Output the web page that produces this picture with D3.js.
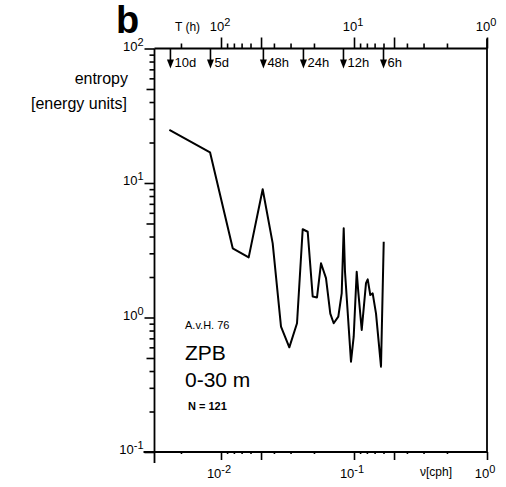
<html>
<script src='https://d3js.org/d3.v7.min.js'></script>
<style>
body {margin:0; background:#fff;}
text {font-family: "Liberation Sans", Arial, sans-serif; fill:#000;}
.axis path {display:none;}
.axis line {stroke:#000; stroke-width:1.6;}
</style>
<body onload='init()'>
<svg width=506 height=487></svg>
<script>
// spectrum: frequency (cph) and entropy
var freq = [0.00409, 0.00827, 0.01225, 0.01615, 0.02058, 0.02447, 0.02826, 0.03263, 0.03728, 0.04114,
            0.04486, 0.04892, 0.05271, 0.05648, 0.06158, 0.06634, 0.07036, 0.07621, 0.08081, 0.08368,
            0.08557, 0.09493, 0.09947, 0.1048, 0.1077, 0.1143, 0.1231, 0.1268, 0.1326, 0.1382,
            0.1464, 0.1596, 0.1673];
var entropy = [24.8, 16.9, 3.27, 2.80, 8.98, 3.56, 0.854, 0.600, 0.906, 4.53,
               4.34, 1.43, 1.41, 2.53, 1.96, 1.07, 0.906, 1.014, 1.51, 4.61,
               2.19, 0.469, 0.720, 2.19, 1.55, 0.807, 1.80, 1.92, 1.47, 1.51,
               1.07, 0.431, 3.66];

// period ticks (h) used on top and bottom
var periodMajor = [100, 10, 1];
var periodMid = [50, 5];
var periodMinor = [200, 90, 80, 70, 60, 40, 30, 20, 9, 8, 7, 6, 4, 3, 2];
// tidal / daily markers
var markLabels = ["10d", "5d", "48h", "24h", "12h", "6h"];
var markHours = [240, 120, 48, 24, 12, 6];
// y decades
var yDecades = [0.1, 1, 10, 100];
var yExp = ["-1", "0", "1", "2"];
var xLabelVals = [0.01, 0.1, 1];
var xExp = ["-2", "-1", "0"];
var topLabelVals = [0.01, 0.1, 1];
var topExp = ["2", "1", "0"];

function init() {
  var svg = d3.select("svg");
  var x = d3.scaleLog().domain([Math.pow(10, -2.5), 1]).range([154.5, 487]);
  var y = d3.scaleLog().domain([0.1, 100]).range([452, 48.5]);
  var x0 = x.range()[0], x1 = x.range()[1], yb = y.range()[0], yt = y.range()[1];

  // frame lines
  svg.append("g").attr("stroke", "#000").attr("stroke-width", 1.8)
    .selectAll("line")
    .data([[x0, yt, x0, yb + 11], [x0 - 11, yb, x1, yb], [x0, yt, x1, yt], [x1, yt - 10, x1, yb]])
    .enter().append("line")
    .attr("x1", d => d[0]).attr("y1", d => d[1]).attr("x2", d => d[2]).attr("y2", d => d[3]);

  var toF = h => 1 / h;

  // top axis (period ticks, pointing up) and the same ticks on the bottom
  [[periodMinor, 5], [periodMid, 11], [periodMajor, 11]].forEach(function (s) {
    svg.append("g").attr("class", "axis").attr("transform", "translate(0," + yt + ")")
      .call(d3.axisTop(x).tickValues(s[0].map(toF)).tickSize(s[1]).tickFormat(""));
    svg.append("g").attr("class", "axis").attr("transform", "translate(0," + yb + ")")
      .call(d3.axisBottom(x).tickValues(s[0].map(toF)).tickSize(s[1] - 3).tickFormat(""));
  });

  // left axis ticks
  var yMinor = [], yMid = [];
  yDecades.forEach(function (d) {
    if (d >= 100) return;
    [2, 3, 4, 6, 7, 8, 9].forEach(m => yMinor.push(d * m));
    yMid.push(d * 5);
  });
  [[yMinor, 5], [yMid, 8], [yDecades, 10]].forEach(function (s) {
    svg.append("g").attr("class", "axis").attr("transform", "translate(" + x0 + ",0)")
      .call(d3.axisLeft(y).tickValues(s[0]).tickSize(s[1]).tickFormat(""));
  });

  // y labels
  var yl = svg.append("g").selectAll("text").data(yDecades).enter().append("text")
    .attr("x", x0 - 11).attr("y", d => y(d) + 2)
    .attr("text-anchor", "end").attr("font-size", 13);
  yl.append("tspan").text("10");
  yl.append("tspan").attr("dy", -5).attr("font-size", 11).text((d, i) => yExp[i]);

  // bottom labels
  var xl = svg.append("g").selectAll("text").data(xLabelVals).enter().append("text")
    .attr("x", d => x(d) - 2).attr("y", 478)
    .attr("text-anchor", "middle").attr("font-size", 13);
  xl.append("tspan").text("10");
  xl.append("tspan").attr("dy", -5).attr("font-size", 11).text((d, i) => xExp[i]);
  svg.append("text").attr("x", 436).attr("y", 476).attr("text-anchor", "middle")
    .attr("font-size", 12).text("\u03bd[cph]");

  // top labels
  var tl = svg.append("g").selectAll("text").data(topLabelVals).enter().append("text")
    .attr("x", d => x(d) - 1).attr("y", 31)
    .attr("text-anchor", "middle").attr("font-size", 13);
  tl.append("tspan").text("10");
  tl.append("tspan").attr("dy", -5).attr("font-size", 11).text((d, i) => topExp[i]);
  svg.append("text").attr("x", 175).attr("y", 31).attr("font-size", 12).text("T (h)");

  // arrows for markers
  var mk = svg.append("g").selectAll("g").data(markHours).enter().append("g")
    .attr("transform", d => "translate(" + x(1 / d) + "," + yt + ")");
  mk.append("line").attr("x1", 0).attr("x2", 0).attr("y1", 0).attr("y2", 14)
    .attr("stroke", "#000").attr("stroke-width", 1.6);
  mk.append("path").attr("d", "M-3.5,11L3.5,11L0,20Z").attr("fill", "#000");
  mk.append("text").attr("x", 4).attr("y", 18).attr("font-size", 13)
    .text((d, i) => markLabels[i]);

  // axis title
  svg.append("text").attr("x", 128).attr("y", 84).attr("text-anchor", "end")
    .attr("font-size", 16).text("entropy");
  svg.append("text").attr("x", 127).attr("y", 109).attr("text-anchor", "end")
    .attr("font-size", 16).text("[energy units]");

  // panel letter
  svg.append("text").attr("x", 116).attr("y", 33).attr("font-size", 38)
    .attr("font-weight", "bold").text("b");

  // annotations
  svg.append("text").attr("x", 185).attr("y", 329).attr("font-size", 11).text("A.v.H. 76");
  svg.append("text").attr("x", 185).attr("y", 360).attr("font-size", 21).text("ZPB");
  svg.append("text").attr("x", 185).attr("y", 387).attr("font-size", 21).text("0-30 m");
  svg.append("text").attr("x", 188).attr("y", 410).attr("font-size", 11)
    .attr("font-weight", "bold").text("N = 121");

  // spectrum line
  var line = d3.line().x((d, i) => x(freq[i])).y((d, i) => y(entropy[i]));
  svg.append("path").datum(entropy).attr("d", line)
    .attr("fill", "none").attr("stroke", "#000").attr("stroke-width", 2)
    .attr("stroke-linejoin", "round");
}
</script>
</body>
</html>
